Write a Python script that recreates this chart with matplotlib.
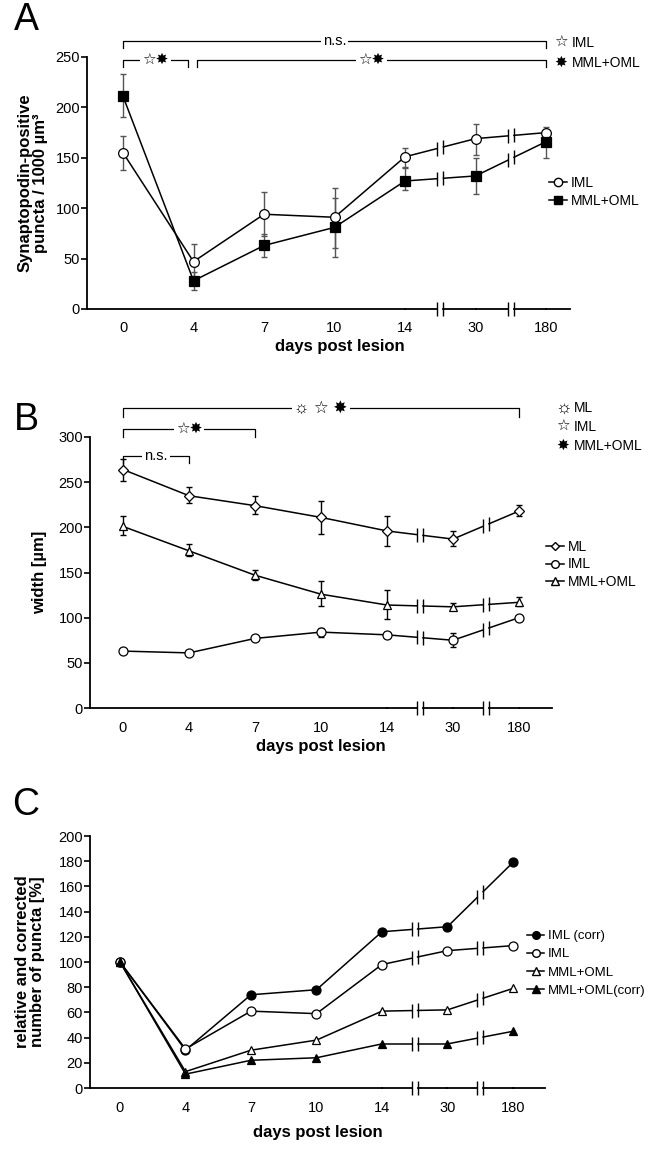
import matplotlib
matplotlib.use("Agg")
import matplotlib.pyplot as plt
from matplotlib.lines import Line2D
import numpy as np

plt.rcParams['font.family'] = ['Liberation Sans', 'DejaVu Sans']

W, H = 649, 1149

# --- data ---
days = ['0', '4', '7', '10', '14', '30', '180']

a_iml = [155, 47, 94, 91, 151, 169, 175]
a_iml_lo = [138, 30, 72, 61, 141, 153, 169]
a_iml_hi = [172, 64, 116, 120, 160, 184, 181]
a_mml = [211, 28, 63, 81, 127, 132, 166]
a_mml_lo = [190, 19, 52, 52, 118, 114, 150]
a_mml_hi = [233, 37, 74, 110, 140, 150, 174]

b_ml = [264, 235, 224, 211, 196, 187, 218]
b_ml_lo = [251, 227, 215, 193, 179, 179, 212]
b_ml_hi = [276, 245, 235, 229, 213, 196, 225]
b_iml = [63, 61, 77, 84, 81, 75, 100]
b_iml_lo = [63, 61, 77, 79, 78, 68, 100]
b_iml_hi = [63, 61, 77, 89, 84, 83, 100]
b_mml = [201, 174, 147, 126, 114, 112, 117]
b_mml_lo = [191, 168, 142, 113, 98, 108, 113]
b_mml_hi = [213, 182, 153, 141, 131, 116, 123]

c_iml_corr = [100, 30, 74, 78, 124, 128, 179]
c_iml = [100, 31, 61, 59, 98, 109, 113]
c_mml = [100, 13, 30, 38, 61, 62, 79]
c_mml_corr = [100, 11, 22, 24, 35, 35, 45]

breaks = [4.5, 5.5]
gap = 0.09

STAR_W = '\u2606'   # open star, IML
STAR_B = '\u2738'   # black star, MML+OML
SUN = '\u263c'      # ML


def fpos(l, t, r, b):
    return [l / W, 1 - b / H, (r - l) / W, (b - t) / H]


fig = plt.figure(figsize=(W / 100, H / 100), dpi=100)


def broken_line(ax, x, y, lw=1.1, zorder=3, clip=True):
    # line with "||" marks at the axis breaks
    for i in range(len(x) - 1):
        xm = (x[i] + x[i + 1]) / 2
        if any(abs(xm - b) < 1e-6 for b in breaks):
            y1 = np.interp(xm - gap / 2, [x[i], x[i + 1]], [y[i], y[i + 1]])
            y2 = np.interp(xm + gap / 2, [x[i], x[i + 1]], [y[i], y[i + 1]])
            ax.plot([x[i], xm - gap / 2], [y[i], y1], color='k', lw=lw, zorder=zorder, clip_on=clip)
            ax.plot([xm + gap / 2, x[i + 1]], [y2, y[i + 1]], color='k', lw=lw, zorder=zorder, clip_on=clip)
            ax.plot([xm - gap / 2, xm + gap / 2], [y1, y2], ls='none', marker='|', ms=9.5,
                    mew=1.0, color='k', zorder=zorder, clip_on=clip)
        else:
            ax.plot([x[i], x[i + 1]], [y[i], y[i + 1]], color='k', lw=lw, zorder=zorder, clip_on=clip)


def series(ax, y, marker, mfc, ms, lo=None, hi=None, ecol='k'):
    x = np.arange(len(y))
    if lo is not None:
        y = np.array(y)
        err = [y - np.array(lo), np.array(hi) - y]
        ax.errorbar(x, y, yerr=err, fmt='none', ecolor=ecol, elinewidth=1.0,
                    capsize=2.5, capthick=1.0, zorder=2, clip_on=False)
    broken_line(ax, x, y)
    ax.plot(x, y, ls='none', marker=marker, mfc=mfc, mec='k', ms=ms, mew=0.9,
            zorder=4, clip_on=False)


def setup(ax, xlim, ymax, ystep):
    ax.set_xlim(*xlim)
    ax.set_ylim(0, ymax)
    for s in ['top', 'right', 'bottom']:
        ax.spines[s].set_visible(False)
    ax.spines['left'].set_linewidth(1.3)
    ax.set_yticks(np.arange(0, ymax + 1, ystep))
    ax.set_xticks(range(len(days)))
    ax.set_xticklabels(days)
    ax.tick_params(axis='x', length=0, pad=9, labelsize=10.5)
    ax.tick_params(axis='y', length=4, width=1.2, pad=1, labelsize=10.5)
    # x axis with breaks
    broken_line(ax, [xlim[0], breaks[0] - 0.5, breaks[0] + 0.5, breaks[1] + 0.5, xlim[1]],
                [0, 0, 0, 0, 0], lw=1.3, zorder=5, clip=False)


def bracket(ax, x0, x1, y, drop, label, fs=11):
    ax.plot([x0, x0, x1, x1], [y - drop, y, y, y - drop], color='k', lw=0.9, clip_on=False)
    ax.text((x0 + x1) / 2, y, label, ha='center', va='center', fontsize=fs,
            bbox=dict(fc='white', ec='none', pad=1.5), clip_on=False)


def star_key(x, y, sym, label, fs=11):
    fig.text(x / W, 1 - y / H, sym, fontsize=fs, va='center', ha='center')
    fig.text((x + 11) / W, 1 - y / H, label, fontsize=10, va='center')


legend_kw = dict(loc='upper left', frameon=False, fontsize=10, handlelength=1.3,
                 handletextpad=0.3, borderpad=0, borderaxespad=0)

# ---------------- A ----------------
axA = fig.add_axes(fpos(87, 57, 570, 309))
setup(axA, (-0.511, 6.34), 250, 50)
series(axA, a_iml, 'o', 'white', 7, a_iml_lo, a_iml_hi, ecol='#555555')
series(axA, a_mml, 's', 'black', 6.5, a_mml_lo, a_mml_hi, ecol='#555555')
bracket(axA, 0, 6, 266, 7, 'n.s.', fs=10.5)
bracket(axA, 0, 0.92, 247, 7, STAR_W + STAR_B)
bracket(axA, 1.05, 6, 247, 7, STAR_W + STAR_B)
star_key(561, 43, STAR_W, 'IML')
star_key(561, 63, STAR_B, 'MML+OML')
hA = [Line2D([], [], color='k', lw=1.1, marker='o', mfc='white', mec='k', ms=6),
      Line2D([], [], color='k', lw=1.1, marker='s', mfc='black', mec='k', ms=5.5)]
fig.legend(hA, ['IML', 'MML+OML'], bbox_to_anchor=(549 / W, 1 - 176 / H),
           labelspacing=0.3, **legend_kw)
fig.text(340 / W, 1 - 346 / H, 'days post lesion', ha='center', va='center',
         fontsize=12, fontweight='bold')
fig.text(33 / W, 1 - 183 / H, 'Synaptopodin-positive\npuncta / 1000 \u00b5m\u00b3', ha='center',
         va='center', rotation=90, fontsize=12, fontweight='bold', linespacing=1.05)
fig.text(26 / W, 1 - 20 / H, 'A', ha='center', va='center', fontsize=27)

# ---------------- B ----------------
axB = fig.add_axes(fpos(90, 437, 552, 708))
setup(axB, (-0.5, 6.5), 300, 50)
series(axB, b_ml, 'D', 'white', 5, b_ml_lo, b_ml_hi)
series(axB, b_mml, '^', 'white', 6, b_mml_lo, b_mml_hi)
series(axB, b_iml, 'o', 'white', 6.5, b_iml_lo, b_iml_hi)
axB.plot([0, 0, 6, 6], [322, 332, 332, 322], color='k', lw=0.9, clip_on=False)
axB.text(3, 332, SUN + ' ' + STAR_W + ' ' + STAR_B, ha='center', va='center', fontsize=12,
         bbox=dict(fc='white', ec='none', pad=1.5), clip_on=False)
bracket(axB, 0, 2, 309, 9, STAR_W + STAR_B)
bracket(axB, 0, 1, 279, 8, 'n.s.', fs=10.5)
star_key(563, 408, SUN, 'ML', fs=13)
star_key(563, 427, STAR_W, 'IML')
star_key(563, 446, STAR_B, 'MML+OML')
hB = [Line2D([], [], color='k', lw=1.1, marker='D', mfc='white', mec='k', ms=4.5),
      Line2D([], [], color='k', lw=1.1, marker='o', mfc='white', mec='k', ms=5.5),
      Line2D([], [], color='k', lw=1.1, marker='^', mfc='white', mec='k', ms=5.5)]
fig.legend(hB, ['ML', 'IML', 'MML+OML'], bbox_to_anchor=(546 / W, 1 - 540 / H),
           labelspacing=0.25, **legend_kw)
fig.text(321 / W, 1 - 747 / H, 'days post lesion', ha='center', va='center',
         fontsize=12, fontweight='bold')
fig.text(40 / W, 1 - 572 / H, 'width [\u00b5m]', ha='center', va='center', rotation=90,
         fontsize=12, fontweight='bold')
fig.text(26 / W, 1 - 420 / H, 'B', ha='center', va='center', fontsize=27)

# ---------------- C ----------------
axC = fig.add_axes(fpos(90, 836, 545, 1088))
setup(axC, (-0.458, 6.49), 200, 20)
series(axC, c_iml_corr, 'o', 'black', 6.5)
series(axC, c_iml, 'o', 'white', 6.5)
series(axC, c_mml, '^', 'white', 6)
series(axC, c_mml_corr, '^', 'black', 6)
hC = [Line2D([], [], color='k', lw=1.1, marker='o', mfc='black', mec='k', ms=5.5),
      Line2D([], [], color='k', lw=1.1, marker='o', mfc='white', mec='k', ms=5.5),
      Line2D([], [], color='k', lw=1.1, marker='^', mfc='white', mec='k', ms=5.5),
      Line2D([], [], color='k', lw=1.1, marker='^', mfc='black', mec='k', ms=5.5)]
fig.legend(hC, ['IML (corr)', 'IML', 'MML+OML', 'MML+OML(corr)'],
           bbox_to_anchor=(527 / W, 1 - 930 / H), labelspacing=0.45,
           **dict(legend_kw, fontsize=9.5))
fig.text(318 / W, 1 - 1133 / H, 'days post lesion', ha='center', va='center',
         fontsize=12, fontweight='bold')
fig.text(30 / W, 1 - 962 / H, 'relative and corrected\nnumber of puncta [%]', ha='center',
         va='center', rotation=90, fontsize=12, fontweight='bold', linespacing=1.05)
fig.text(26 / W, 1 - 805 / H, 'C', ha='center', va='center', fontsize=27)

fig.savefig('out.png', dpi=100)
